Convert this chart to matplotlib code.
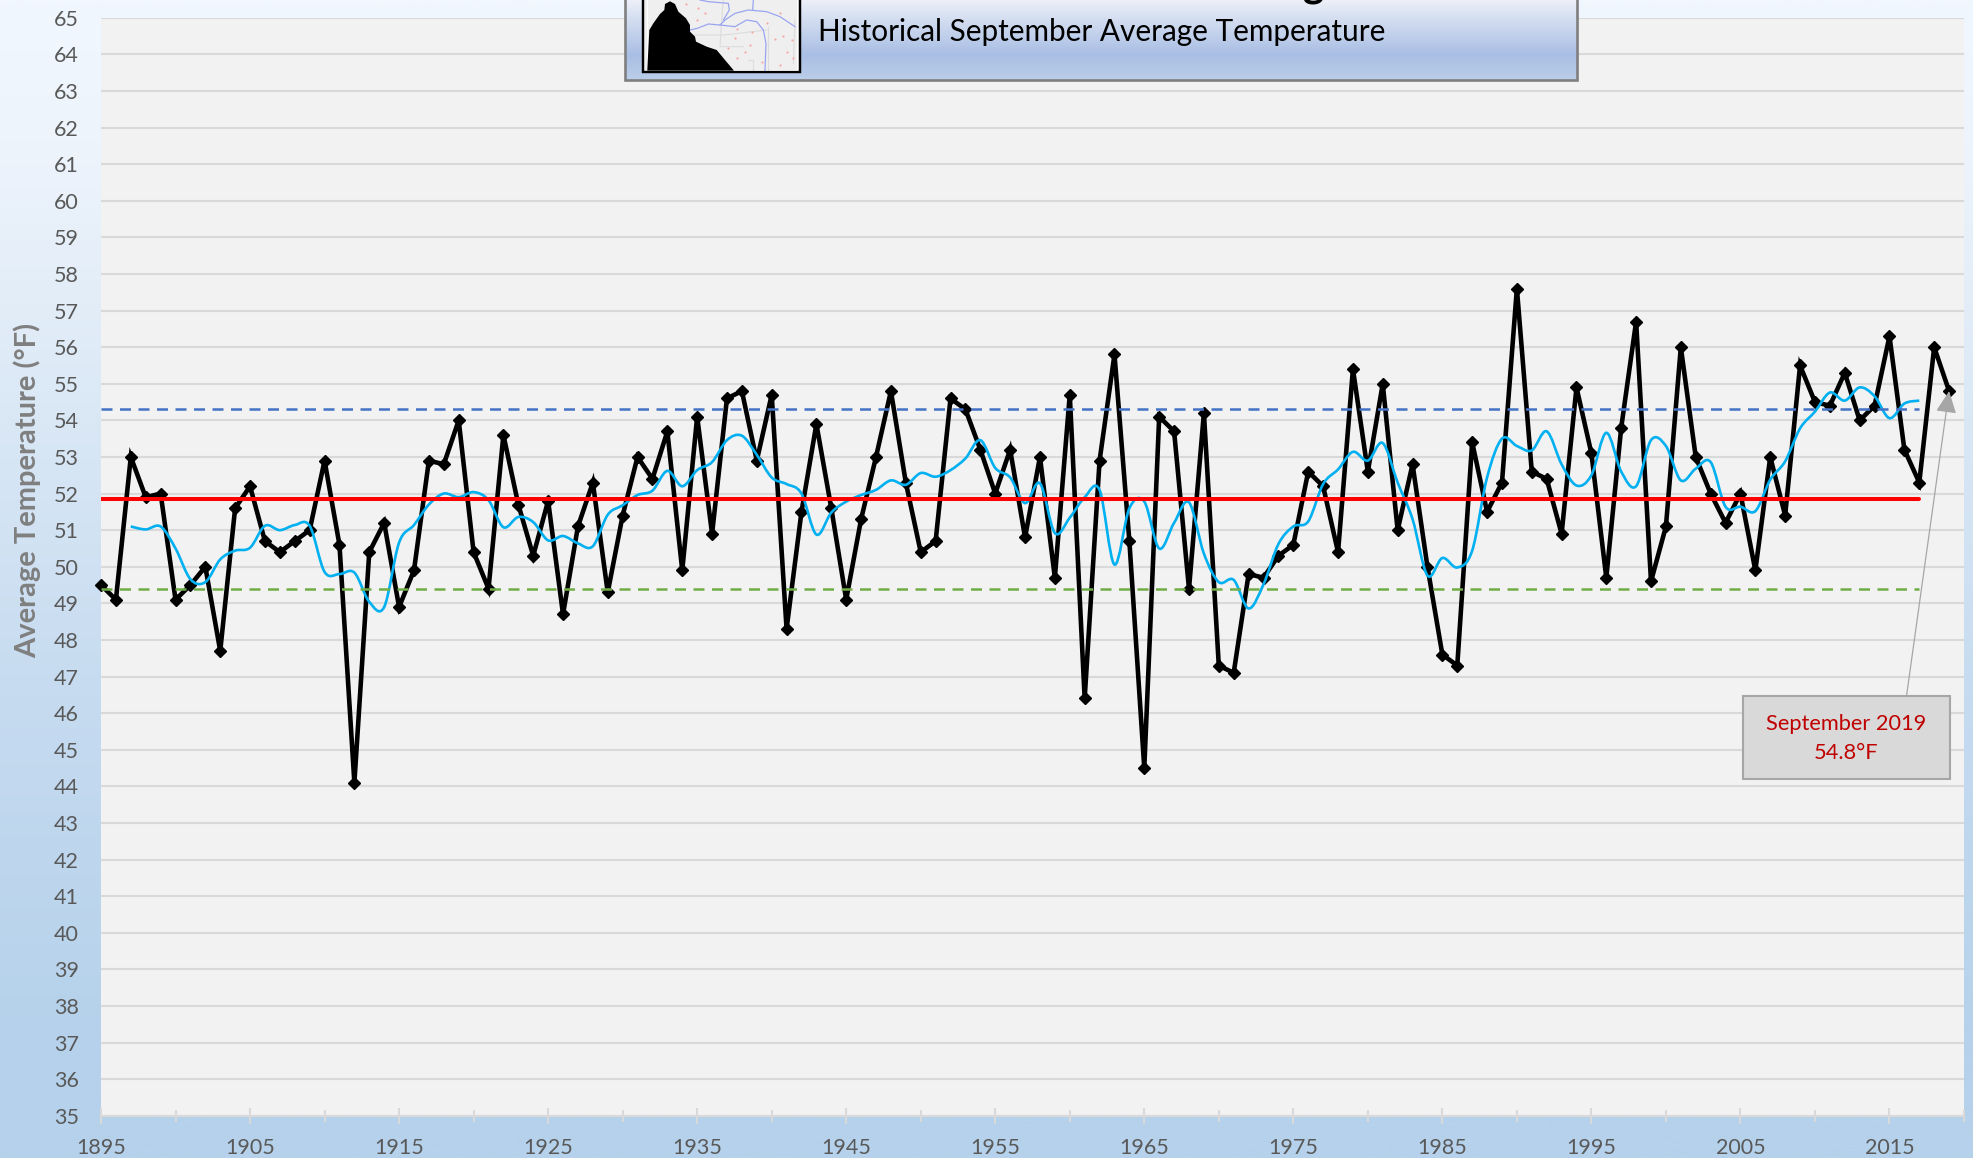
import numpy as np
import matplotlib
matplotlib.use("Agg")
import matplotlib.pyplot as plt
from matplotlib.colors import LinearSegmentedColormap
from matplotlib.path import Path
from matplotlib.patches import PathPatch, Rectangle, Polygon

plt.rcParams['font.family'] = ['Lato', 'DejaVu Sans']

# data
first_year = 1895
temps = [49.5, 49.1, 53.0, 51.9, 52.0, 49.1, 49.5, 50.0, 47.7, 51.6,
         52.2, 50.7, 50.4, 50.7, 51.0, 52.9, 50.6, 44.1, 50.4, 51.2,
         48.9, 49.9, 52.9, 52.8, 54.0, 50.4, 49.4, 53.6, 51.7, 50.3,
         51.8, 48.7, 51.1, 52.3, 49.3, 51.4, 53.0, 52.4, 53.7, 49.9,
         54.1, 50.9, 54.6, 54.8, 52.9, 54.7, 48.3, 51.5, 53.9, 51.6,
         49.1, 51.3, 53.0, 54.8, 52.3, 50.4, 50.7, 54.6, 54.3, 53.2,
         52.0, 53.2, 50.8, 53.0, 49.7, 54.7, 46.4, 52.9, 55.8, 50.7,
         44.5, 54.1, 53.7, 49.4, 54.2, 47.3, 47.1, 49.8, 49.7, 50.3,
         50.6, 52.6, 52.2, 50.4, 55.4, 52.6, 55.0, 51.0, 52.8, 50.0,
         47.6, 47.3, 53.4, 51.5, 52.3, 57.6, 52.6, 52.4, 50.9, 54.9,
         53.1, 49.7, 53.8, 56.7, 49.6, 51.1, 56.0, 53.0, 52.0, 51.2,
         52.0, 49.9, 53.0, 51.4, 55.5, 54.5, 54.4, 55.3, 54.0, 54.4,
         56.3, 53.2, 52.3, 56.0, 54.8]
years = list(range(first_year, first_year + len(temps)))

# cyan smoothed curve, 1897-2017
smooth_first_year = 1897
smooth_vals = [51.1, 51.02, 51.1, 50.5, 49.66, 49.58, 50.2, 50.44, 50.52, 51.12,
               51.0, 51.14, 51.12, 49.86, 49.8, 49.84, 49.04, 48.9, 50.66, 51.14,
               51.7, 52.0, 51.9, 52.04, 51.82, 51.08, 51.36, 51.22, 50.72, 50.84,
               50.64, 50.56, 51.42, 51.68, 51.96, 52.08, 52.62, 52.2, 52.64, 52.86,
               53.46, 53.58, 53.06, 52.44, 52.26, 52.0, 50.88, 51.48, 51.78, 51.96,
               52.1, 52.36, 52.24, 52.56, 52.46, 52.64, 52.96, 53.46, 52.7, 52.44,
               51.74, 52.28, 50.92, 51.34, 51.9, 52.1, 50.06, 51.6, 51.78, 50.5,
               51.2, 51.76, 50.36, 49.58, 49.64, 48.86, 49.52, 50.62, 51.1, 51.24,
               52.26, 52.66, 53.14, 52.9, 53.38, 52.3, 51.3, 49.76, 50.24, 49.98,
               50.44, 52.44, 53.5, 53.3, 53.18, 53.7, 52.8, 52.22, 52.5, 53.66,
               52.6, 52.2, 53.46, 53.3, 52.36, 52.68, 52.86, 51.64, 51.64, 51.52,
               52.38, 52.88, 53.78, 54.24, 54.76, 54.54, 54.9, 54.66, 54.06, 54.46,
               54.54]
smooth_years = list(range(smooth_first_year, smooth_first_year + len(smooth_vals)))

mean_temp = 51.85
upper_temp = 54.3
lower_temp = 49.4
line_end_year = 2017
callout_text = "September 2019\n54.8°F"
subtitle = "Historical September Average Temperature"
ylabel = "Average Temperature (°F)"

W, H = 1973, 1158
fig = plt.figure(figsize=(W / 100, H / 100), dpi=100)


def vgrad(ax, stops, extent):
    cmap = LinearSegmentedColormap.from_list("g", stops)
    ax.imshow(np.linspace(0, 1, 400).reshape(-1, 1), cmap=cmap, aspect='auto',
              extent=extent, origin='upper', zorder=0)


# panel background
bg = fig.add_axes([0, 0, 1, 1], zorder=-1)
bg.axis('off')
vgrad(bg, [(0, '#f1f7fe'), (0.12, '#eef4fc'), (0.3, '#dfebf7'),
           (0.6, '#c6dbf0'), (0.88, '#b6d2eb'), (1, '#b5d1eb')], [0, 1, 0, 1])

# main chart
ax = fig.add_axes([101 / W, 1 - 1115.7 / H, (1964 - 101) / W, (1115.7 - 17.8) / H])
ax.set_facecolor('#f2f2f2')
ax.set_xlim(1895, 2020)
ax.set_ylim(35, 65)
for s in ['top', 'left', 'right']:
    ax.spines[s].set_visible(False)
ax.spines['bottom'].set_color('#d9d9d9')
ax.spines['bottom'].set_linewidth(1.5)
ax.set_yticks(range(35, 66))
ax.set_xticks(range(1895, 2016, 10))
ax.set_xticks(range(1900, 2021, 10), minor=True)
ax.grid(axis='y', color='#d9d9d9', linewidth=1.5, zorder=1)
ax.set_axisbelow(True)
ax.tick_params(axis='y', length=0, pad=16, labelsize=15.5, labelcolor='#595959')
ax.tick_params(axis='x', which='major', direction='inout', length=11, width=1.5,
               color='#d9d9d9', pad=10.5, labelsize=15.5, labelcolor='#595959')
ax.tick_params(axis='x', which='minor', direction='inout', length=8, width=1.5,
               color='#d9d9d9')
for t in ax.xaxis.get_major_ticks() + ax.xaxis.get_minor_ticks():
    t.tick1line.set_clip_on(False)

ax.plot(years, temps, color='black', lw=3.3, marker='D', ms=6.2, clip_on=False,
        solid_joinstyle='miter', zorder=3)

# Excel style smoothed line
pts = np.column_stack([smooth_years, smooth_vals])
verts = [pts[0]]
codes = [Path.MOVETO]
for i in range(len(pts) - 1):
    p0 = pts[max(i - 1, 0)]
    p1 = pts[i]
    p2 = pts[i + 1]
    p3 = pts[min(i + 2, len(pts) - 1)]
    verts += [p1 + (p2 - p0) / 6, p2 - (p3 - p1) / 6, p2]
    codes += [Path.CURVE4] * 3
ax.add_patch(PathPatch(Path(verts, codes), fc='none', ec='#00b0f0', lw=1.9, zorder=4))

ax.plot([first_year, line_end_year], [mean_temp, mean_temp], color='#ff0000', lw=2.9,
        solid_capstyle='round', zorder=5)
ax.plot([first_year, line_end_year], [upper_temp, upper_temp], color='#4472c4', lw=1.8,
        dashes=(4.4, 3.0), dash_capstyle='butt', zorder=5)
ax.plot([first_year, line_end_year], [lower_temp, lower_temp], color='#70ad47', lw=1.8,
        dashes=(4.4, 3.0), dash_capstyle='butt', zorder=5)

# overlay in pixel coordinates for the header and callout
ov = fig.add_axes([0, 0, 1, 1], zorder=5)
ov.patch.set_alpha(0)
ov.axis('off')

vgrad(ov, [(0, '#edf0f8'), (0.22, '#d5dff1'), (0.69, '#a9bee4'), (1, '#bbcee9')],
      [625, 1577, 80, 0])
ov.add_patch(Rectangle((625, -10), 952, 90, fc='none', ec='#7f7f7f', lw=1.9, zorder=2))

# little map thumbnail
ov.add_patch(Rectangle((643, -10), 157, 82, fc='#efefef', ec='black', lw=1.6, zorder=3))
ov.add_patch(Rectangle((647, -10), 150, 80, fc='none', ec='white', lw=0.8, zorder=3))


def zm(pairs):
    # thumbnail outlines were measured on a 3x crop
    return [(610 + a / 3, b / 3) for a, b in pairs]


for line in ([(340, 0), (335, 60), (330, 140), (400, 140)], [(230, 105), (340, 105), (470, 90)],
             [(475, 80), (475, 210)], [(415, 180), (430, 180), (430, 210)], [(555, 60), (550, 190)]):
    p = np.array(zm(line))
    ov.plot(p[:, 0], p[:, 1], color='#dcdcdc', lw=0.8, zorder=3)
for line in ([(240, 90), (262, 85), (295, 72), (330, 75), (345, 60), (375, 40), (415, 30),
              (470, 35), (510, 50), (555, 80)],
             [(330, 75), (375, 80), (410, 60), (440, 65), (460, 90), (468, 130), (465, 212)],
             [(270, 0), (295, 5), (355, 10), (358, 30), (340, 60)],
             [(430, 0), (428, 30)]):
    p = np.array(zm(line))
    ov.plot(p[:, 0], p[:, 1], color='#9aa5f2', lw=0.9, zorder=3)
dots = np.array(zm([(228, 12), (265, 25), (285, 40), (262, 60), (380, 88), (425, 97), (375, 115),
                    (420, 135), (355, 145), (405, 155), (380, 175), (455, 185), (510, 38), (470, 68),
                    (520, 108), (545, 120), (495, 118), (530, 155), (550, 175), (510, 195)]))
ov.scatter(dots[:, 0], dots[:, 1], s=2.5, color='#f4a9a9', linewidths=0, zorder=3)
ov.add_patch(Polygon(zm([(112, 208), (118, 90), (130, 70), (150, 42), (163, 30), (165, 12), (180, 4),
                         (195, 12), (205, 35), (228, 55), (240, 75), (240, 95), (255, 110), (258, 125),
                         (290, 140), (320, 150), (345, 180), (372, 212), (112, 212)]),
                     fc='black', ec='none', zorder=3))
ov.add_patch(Rectangle((643, -10), 157, 82, fc='none', ec='black', lw=1.6, zorder=3))

ov.text(818, 31.5, subtitle, fontsize=21.4, color='black', va='center', ha='left', zorder=4)
# only the tail of the clipped main title shows
ov.text(1314, -4, "g", fontsize=29, fontweight='bold', color='black', va='baseline', ha='center',
        zorder=4, clip_on=True)

ov.text(27, 490, ylabel, rotation=90, fontsize=21, fontweight='bold', color='#7f7f7f',
        ha='center', va='center')

ov.add_patch(Rectangle((1743, 696), 207, 83, fc='#d9d9d9', ec='#a6a6a6', lw=1.5, zorder=3))
ov.text(1846, 738.5, callout_text, fontsize=15.7, color='#c00000', ha='center', va='center',
        linespacing=1.55, zorder=4)
ov.annotate("", xy=ax.transData.transform((2019, 54.8)), xycoords='figure pixels',
            xytext=(1906.5, 696), textcoords='data',
            arrowprops=dict(arrowstyle='-|>,head_length=0.85,head_width=0.4', color='#a6a6a6', lw=0.9,
                            shrinkA=0, shrinkB=0, mutation_scale=16), zorder=2)

ov.set_xlim(0, W)
ov.set_ylim(H, 0)
bg.set_xlim(0, 1)
bg.set_ylim(0, 1)

fig.savefig("out.png", dpi=100)
